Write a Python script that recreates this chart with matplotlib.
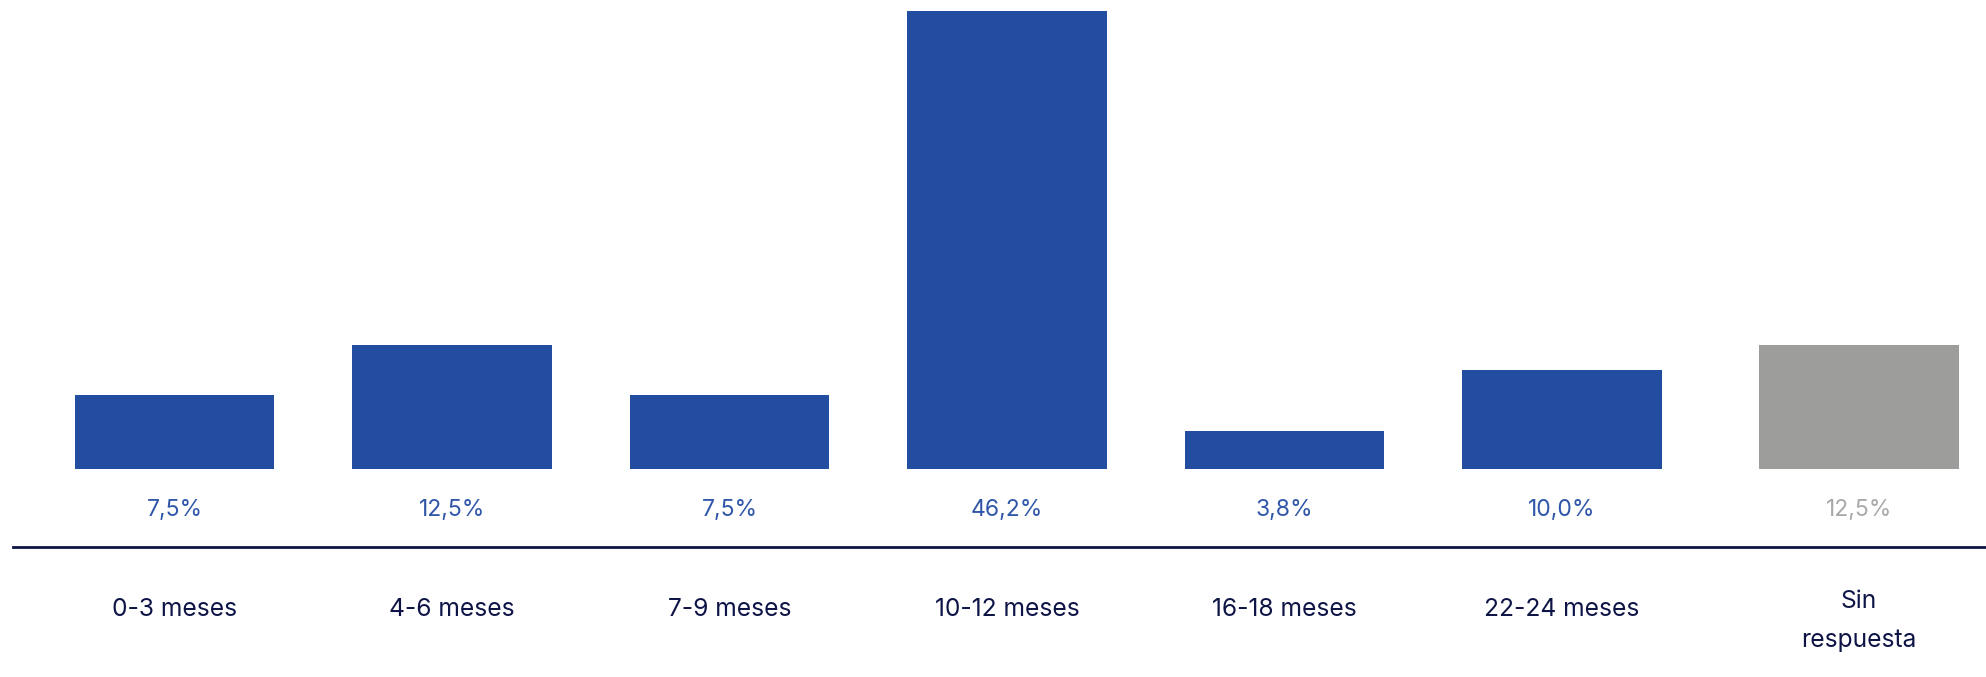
import numpy as np
import matplotlib
matplotlib.use('Agg')
import matplotlib.pyplot as plt
from matplotlib.lines import Line2D
from matplotlib.transforms import blended_transform_factory

# Tiempo de espera (porcentaje de respuestas)
categorias = ['0-3 meses', '4-6 meses', '7-9 meses', '10-12 meses',
              '16-18 meses', '22-24 meses', 'Sin\nrespuesta']
valores = [7.5, 12.5, 7.5, 46.2, 3.8, 10.0, 12.5]
etiquetas = ['7,5%', '12,5%', '7,5%', '46,2%', '3,8%', '10,0%', '12,5%']

AZUL = '#234da0'
GRIS = '#9d9d9c'
AZUL_TXT = '#2f56a8'
GRIS_TXT = '#a9a9a9'
MARINO = '#0e1446'

plt.rcParams['font.family'] = ['Inter', 'DejaVu Sans']

W, H = 1986, 677
fig = plt.figure(figsize=(W / 100, H / 100), dpi=100)
base_px = 469
ax = fig.add_axes([0, 1 - base_px / H, 1, base_px / H])

# posiciones: la columna "Sin respuesta" va algo separada del resto
x = np.arange(len(valores), dtype=float)
x[-1] += 0.07
colores = [AZUL] * (len(valores) - 1) + [GRIS]
txt_colores = [AZUL_TXT] * (len(valores) - 1) + [GRIS_TXT]

ax.bar(x, valores, width=0.72, color=colores)
ax.set_xlim(-174.5 / 277.5, (W - 174.5) / 277.5)
ax.set_ylim(0, max(valores) * base_px / 458)
ax.axis('off')

tr = blended_transform_factory(ax.transData, ax.transAxes)
for xi, et, c in zip(x, etiquetas, txt_colores):
    ax.text(xi, -0.088, et, transform=tr, ha='center', va='center',
            fontsize=16.5, color=c, clip_on=False)

for xi, cat in zip(x, categorias):
    y = -0.274 + (0.015 if '\n' in cat else 0)
    ax.text(xi, y, cat, transform=tr, ha='center', va='top',
            fontsize=17.7, color=MARINO, linespacing=1.85, clip_on=False)

# línea de separación entre valores y categorías
fig.add_artist(Line2D([13 / W, 1], [1 - 547 / H] * 2, color=MARINO, lw=2))

fig.savefig('out.png', dpi=100)
